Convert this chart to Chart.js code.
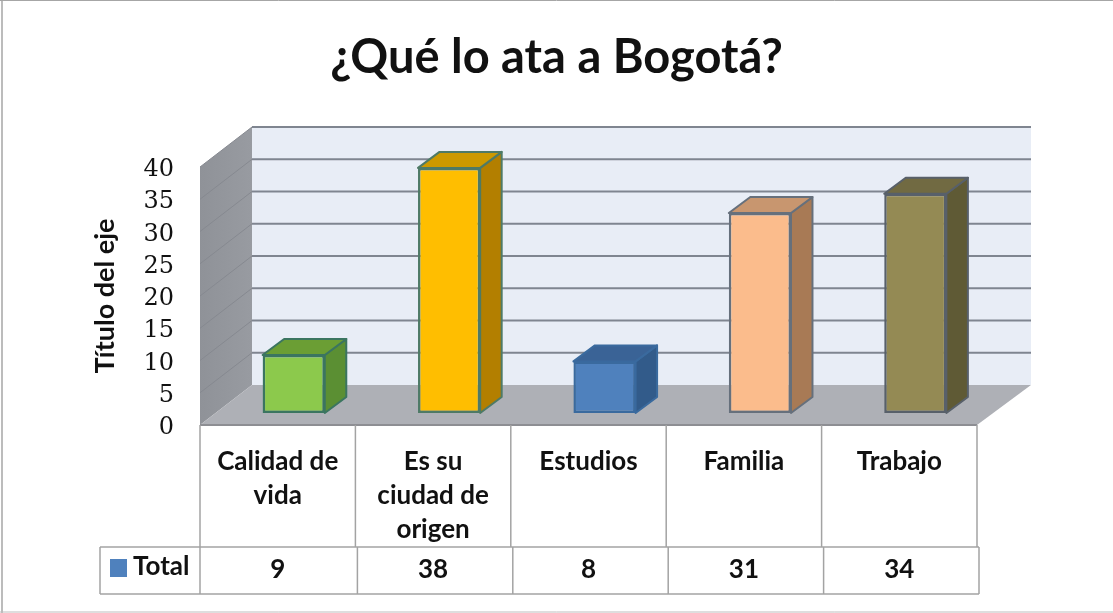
<!DOCTYPE html>
<html lang="es">
<head>
<meta charset="utf-8">
<title>¿Qué lo ata a Bogotá?</title>
<style>html,body{margin:0;padding:0;background:#fff;overflow:hidden}canvas{display:block;filter:blur(0.35px)}</style>
<script src="https://cdn.jsdelivr.net/npm/chart.js@4"></script>
</head>
<body>
<canvas id="c" width="1113" height="613"></canvas>
<script>
const titleText = '¿Qué lo ata a Bogotá?';
const axisTitle = 'Título del eje';
const seriesName = 'Total';
const categories = [['Calidad de','vida'],['Es su','ciudad de','origen'],['Estudios'],['Familia'],['Trabajo']];
const values = [9, 38, 8, 31, 34];
const faceColors = ['#8cc94c','#ffbe00','#4f81bd','#fbbc8c','#948a54'];
const topColors = ['#6b9e34','#cc9900','#3a6396','#c8966f','#716a42'];
const sideColors = ['#5b8f33','#b37f00','#325b8a','#a87a55','#5f5a35'];
const borderColors = ['#3b7560','#4e7a66','#3a6a9e','#66707c','#58606a'];

const FONT = 'Lato, "Open Sans", sans-serif';
const DEPTH_X = 52, DEPTH_Y = 40;
const BAR_SHIFT_X = 16, BAR_SHIFT_Y = 12;
const BAR_DX = 21.5, BAR_DY = 16;

function poly(ctx, pts, fill, stroke, lw) {
  ctx.beginPath();
  pts.forEach((p, i) => i ? ctx.lineTo(p[0], p[1]) : ctx.moveTo(p[0], p[1]));
  ctx.closePath();
  if (fill) { ctx.fillStyle = fill; ctx.fill(); }
  if (stroke) { ctx.strokeStyle = stroke; ctx.lineWidth = lw; ctx.lineJoin = 'round'; ctx.stroke(); }
}
function seg(ctx, x1, y1, x2, y2, color, lw) {
  ctx.beginPath(); ctx.moveTo(x1, y1); ctx.lineTo(x2, y2);
  ctx.strokeStyle = color; ctx.lineWidth = lw; ctx.stroke();
}

const scene3d = {
  id: 'scene3d',
  beforeDatasetsDraw(chart) {
    const { ctx, chartArea: a, scales } = chart;
    const y = scales.y;
    const L = a.left, R = a.right, T = a.top, B = a.bottom;
    ctx.save();
    // frame of the picture
    seg(ctx, 2, 0, 2, 613, '#a6a6a6', 1.5);
    seg(ctx, 0, 0.5, 1113, 0.5, '#a6a6a6', 1);
    seg(ctx, 0, 612, 1113, 612, '#bdbdbd', 1);
    // back wall
    poly(ctx, [[L+DEPTH_X,T-DEPTH_Y],[R+DEPTH_X+2,T-DEPTH_Y],[R+DEPTH_X+2,B-DEPTH_Y],[L+DEPTH_X,B-DEPTH_Y]], '#e8edf6');
    // left wall
    const wall = ctx.createLinearGradient(L, 0, L + DEPTH_X, 0);
    wall.addColorStop(0, '#8f9298'); wall.addColorStop(1, '#989ba1');
    poly(ctx, [[L,T],[L+DEPTH_X,T-DEPTH_Y],[L+DEPTH_X,B-DEPTH_Y],[L,B]], wall);
    // gridlines on both walls, from the value scale
    y.ticks.forEach(t => {
      const py = y.getPixelForValue(t.value);
      if (t.value > 0) seg(ctx, L+DEPTH_X, py-DEPTH_Y, R+DEPTH_X+2, py-DEPTH_Y, '#7f8590', 2);
      if (t.value > 0) seg(ctx, L, py, L+DEPTH_X, py-DEPTH_Y, '#868990', 1);
    });
    // floor
    poly(ctx, [[L,B],[L+DEPTH_X,B-DEPTH_Y],[R+DEPTH_X+2,B-DEPTH_Y],[R,B]], '#aeb0b6');
    seg(ctx, L, B, R, B, '#8d8e93', 2);
    // bars: side and top faces, then front faces through the library
    ctx.restore();
    ctx.save();
    ctx.translate(BAR_SHIFT_X, -BAR_SHIFT_Y);
    chart.getDatasetMeta(0).data.forEach((bar, i) => {
      const w = bar.width / 2, x1 = bar.x - w, x2 = bar.x + w, top = bar.y, base = bar.base;
      poly(ctx, [[x2,top],[x2+BAR_DX,top-BAR_DY],[x2+BAR_DX,base-BAR_DY],[x2,base]], sideColors[i], borderColors[i], 2);
      poly(ctx, [[x1,top],[x1+BAR_DX,top-BAR_DY],[x2+BAR_DX,top-BAR_DY],[x2,top]], topColors[i], borderColors[i], 2);
    });
  },
  afterDatasetsDraw(chart) {
    const { ctx, chartArea: a, scales } = chart;
    ctx.restore();
    const x = scales.x;
    const L = a.left, R = a.right, B = a.bottom, cw = (R - L) / categories.length;
    const rowTop = 547, rowBottom = 594, keyLeft = 100, line = '#a3a3a3';
    ctx.save();
    // data table
    for (let i = 0; i <= categories.length; i++) {
      const vx = L + i * cw;
      seg(ctx, vx, B, vx, rowTop, line, 1.5);
      seg(ctx, vx + (i ? 2 : 0), rowTop, vx + (i ? 2 : 0), rowBottom, line, 1.5);
    }
    seg(ctx, keyLeft, rowTop, R + 2, rowTop, line, 1.5);
    seg(ctx, keyLeft, rowBottom, R + 2, rowBottom, line, 1.5);
    seg(ctx, keyLeft, rowTop, keyLeft, rowBottom, line, 1.5);
    ctx.fillStyle = '#111';
    ctx.font = 'bold 26px ' + FONT;
    ctx.textBaseline = 'middle';
    ctx.textAlign = 'center';
    values.forEach((v, i) => ctx.fillText(String(v), x.getPixelForValue(i), 570));
    ctx.textAlign = 'left';
    ctx.fillText(seriesName, 133, 567);
    ctx.fillStyle = faceColors[2];
    ctx.fillRect(110, 559, 17, 18);
    ctx.restore();
  }
};

new Chart(document.getElementById('c'), {
  type: 'bar',
  plugins: [scene3d],
  data: {
    labels: categories,
    datasets: [{
      label: seriesName,
      data: values,
      backgroundColor: faceColors,
      borderColor: borderColors,
      borderWidth: 2.5,
      borderSkipped: false,
      categoryPercentage: 1,
      barPercentage: 0.4,
      clip: false
    }]
  },
  options: {
    responsive: false,
    animation: false,
    layout: { padding: 0 },
    plugins: {
      legend: { display: false },
      tooltip: { enabled: false },
      title: {
        display: true,
        text: titleText,
        color: '#111',
        font: { family: FONT, size: 47, weight: 'bold', lineHeight: 1.2 },
        padding: { top: 30, bottom: 80.6 }
      }
    },
    scales: {
      x: {
        position: 'bottom',
        offset: true,
        grid: { display: false, drawTicks: false },
        border: { display: false },
        ticks: {
          autoSkip: false, maxRotation: 0, minRotation: 0, padding: 19, color: '#111',
          font: { family: FONT, size: 26, weight: 'bold', lineHeight: 1.32 }
        },
        afterFit(s) { s.height = 188; }
      },
      y: {
        position: 'left',
        min: 0, max: 40,
        grid: { display: false, drawTicks: false },
        border: { display: false },
        ticks: {
          stepSize: 5, padding: 26, color: '#111', labelOffset: 3,
          font: { family: '"DejaVu Serif", serif', size: 24 }
        },
        title: {
          display: true, text: axisTitle, color: '#111',
          font: { family: FONT, size: 27, weight: 'bold' },
          padding: { top: 89, bottom: 0 }
        },
        afterFit(s) { s.width = 200; }
      },
      yRight: {
        position: 'right',
        min: 0, max: 40,
        grid: { display: false, drawTicks: false },
        border: { display: false },
        ticks: { display: false },
        afterFit(s) { s.width = 136; }
      }
    }
  }
});
</script>
</body>
</html>
